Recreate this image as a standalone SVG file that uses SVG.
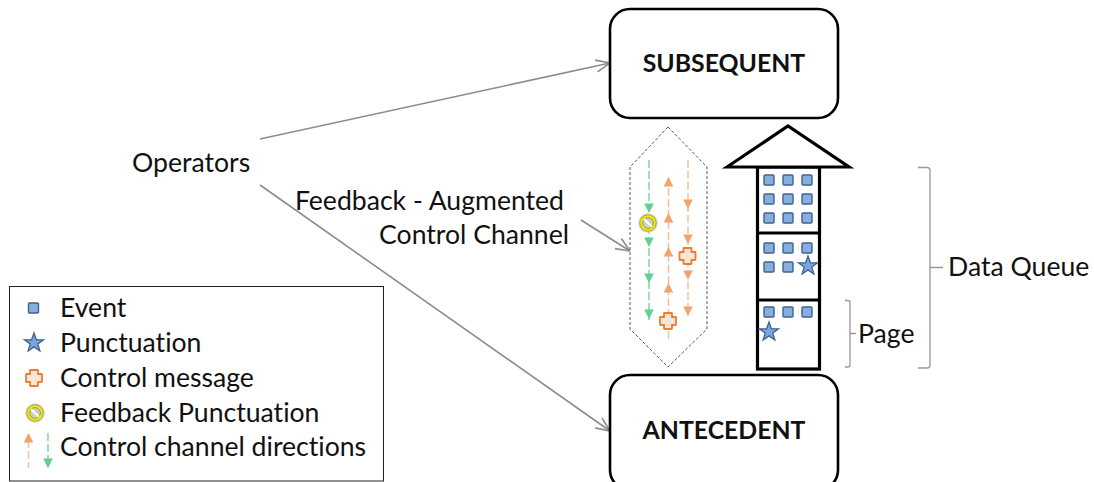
<svg xmlns="http://www.w3.org/2000/svg" width="1094" height="482" viewBox="0 0 1094 482">
<style>
text{font-family:"Lato","Open Sans","Liberation Sans",sans-serif;fill:#111;font-size:26.6px;font-variant-ligatures:none}
.b{font-weight:700;font-size:24.800px;text-anchor:middle}
.box{fill:#fff;stroke:#000;stroke-width:2.6}
.conn{fill:none;stroke:#8c8c8c;stroke-width:1.6}
.br{fill:none;stroke:#999;stroke-width:1.3}
.g{stroke:#72d6a0;stroke-width:1.4;stroke-dasharray:8 3;fill:none}
.o{stroke:#f6bd94;stroke-width:1.4;stroke-dasharray:8 3;fill:none}
.gt{fill:#5fd08f}.ot{fill:#f0a36c}
.ev{fill:#86aee0;stroke:#41628a;stroke-width:1.4}
.st{fill:#79a6dc;stroke:#41628a;stroke-width:1.3}
.cm{fill:#fbe5d6;stroke:#ed7d31;stroke-width:1.8}
</style>
<defs>
<marker id="open" viewBox="0 0 16 14" refX="15" refY="7" markerWidth="16" markerHeight="14" markerUnits="userSpaceOnUse" orient="auto"><path d="M1 1L15 7L1 13" fill="none" stroke="#8c8c8c" stroke-width="1.6"/></marker>
<rect id="e" x="-5" y="-5" width="10" height="10" rx="1" class="ev"/>
<path id="s" class="st" d="M0-10L2.400-3.200H9.500L3.800 1.100L5.900 8L0 3.900L-5.900 8L-3.800 1.100L-9.500 -3.200H-2.400Z"/>
<path id="c" class="cm" d="M-3.500-8H3.500Q4 -8 4 -7.500V-4H7.500Q8 -4 8 -3.500V3.500Q8 4 7.500 4H4V7.500Q4 8 3.500 8H-3.500Q-4 8 -4 7.500V4H-7.500Q-8 4 -8 3.500V-3.500Q-8 -4 -7.500 -4H-4V-7.500Q-4 -8 -3.500 -8Z"/>
<path id="d" class="gt" d="M-4.800-9.500H4.800L0 0Z"/>
<path id="od" class="ot" d="M-4.800-9.500H4.800L0 0Z"/>
<path id="u" class="ot" d="M-4.800 9.500H4.800L0 0Z"/>
<g id="f"><circle r="9.800" fill="#d9d9c8"/><circle r="8.200" fill="#efef00" stroke="#a8a83c" stroke-width="1"/><circle r="5.400" fill="#cfcfb8" stroke="#8a8a6a" stroke-width="0.800"/><path d="M-3.800-3.800L3.800 3.800" stroke="#fff" stroke-width="2.200"/></g>
</defs>
<g id="connectors">
<path class="conn" marker-end="url(#open)" d="M260 139L610 63"/>
<path class="conn" marker-end="url(#open)" d="M260 185L610 431"/>
<path class="conn" marker-end="url(#open)" d="M581 220L630 251"/>
</g>
<g id="subsequent"><rect class="box" x="610" y="9" width="228" height="109" rx="20"/><text class="b" x="724" y="72">SUBSEQUENT</text></g>
<g id="antecedent"><rect class="box" x="610" y="375" width="228" height="115" rx="20"/><text class="b" x="724" y="439">ANTECEDENT</text></g>
<g id="operators"><text x="132" y="172">Operators</text></g>
<g id="channel-label"><text x="564" y="210" text-anchor="end">Feedback - Augmented</text><text x="569" y="244" text-anchor="end">Control Channel</text></g>
<g id="channel">
<path d="M668 127L707 167V329L668 367L630 329V167Z" fill="#fff" stroke="#555" stroke-width="1" stroke-dasharray="3 2"/>
<path class="g" d="M649 160V320"/>
<path class="o" d="M668.500 177V339"/>
<path class="o" d="M688 160V316"/>
<use href="#d" x="649" y="213"/><use href="#d" x="649" y="247"/><use href="#d" x="649" y="283"/><use href="#d" x="649" y="319"/>
<use href="#u" x="668.500" y="177"/><use href="#u" x="668.500" y="213"/><use href="#u" x="668.500" y="247"/><use href="#u" x="668.500" y="283"/>
<use href="#od" x="688" y="209"/><use href="#od" x="688" y="244"/><use href="#od" x="688" y="280"/><use href="#od" x="688" y="316"/>
<use href="#f" x="648" y="223"/>
<use href="#c" x="687.500" y="256"/><use href="#c" x="668" y="321"/>
</g>
<g id="queue">
<rect x="757.500" y="167" width="62" height="202" fill="#fff" stroke="#000" stroke-width="3.200"/>
<path d="M727 167L788 126L849 167Z" fill="#fff" stroke="#000" stroke-width="3.200"/>
<path d="M757 233H820M757 300H820" stroke="#000" stroke-width="3"/>
<use href="#e" x="769" y="180"/><use href="#e" x="788" y="180"/><use href="#e" x="807" y="180"/>
<use href="#e" x="769" y="199"/><use href="#e" x="788" y="199"/><use href="#e" x="807" y="199"/>
<use href="#e" x="769" y="218"/><use href="#e" x="788" y="218"/><use href="#e" x="807" y="218"/>
<use href="#e" x="769" y="248"/><use href="#e" x="788" y="248"/><use href="#e" x="807" y="248"/>
<use href="#e" x="769" y="267"/><use href="#e" x="788" y="267"/><use href="#s" x="808" y="266"/>
<use href="#e" x="769" y="312"/><use href="#e" x="788" y="312"/><use href="#e" x="807" y="312"/>
<use href="#s" x="769" y="332"/>
</g>
<g id="page"><path class="br" d="M845 300.500H848Q850 300.500 850 302.500V365Q850 367 848 367H845M850 333.500H856"/><text x="858" y="343">Page</text></g>
<g id="data-queue"><path class="br" d="M918 167.500H927Q930 167.500 930 170.500V365Q930 368 927 368H918M930 267.500H943"/><text x="948" y="276">Data Queue</text></g>
<g id="legend">
<rect x="9.500" y="286.500" width="374" height="194.500" fill="#fff" stroke="#222" stroke-width="1"/>
<use href="#e" x="33.500" y="308"/><text x="60" y="317">Event</text>
<use href="#s" x="34" y="343"/><text x="60" y="352">Punctuation</text>
<use href="#c" x="34" y="378"/><text x="60" y="387">Control message</text>
<use href="#f" x="35" y="413"/><text x="60" y="422">Feedback Punctuation</text>
<path class="o" d="M28.500 440V468"/><path class="g" d="M48 433V460"/>
<use href="#u" x="28.500" y="433"/><use href="#d" x="48" y="468"/>
<text x="60" y="456">Control channel directions</text>
</g>
</svg>
